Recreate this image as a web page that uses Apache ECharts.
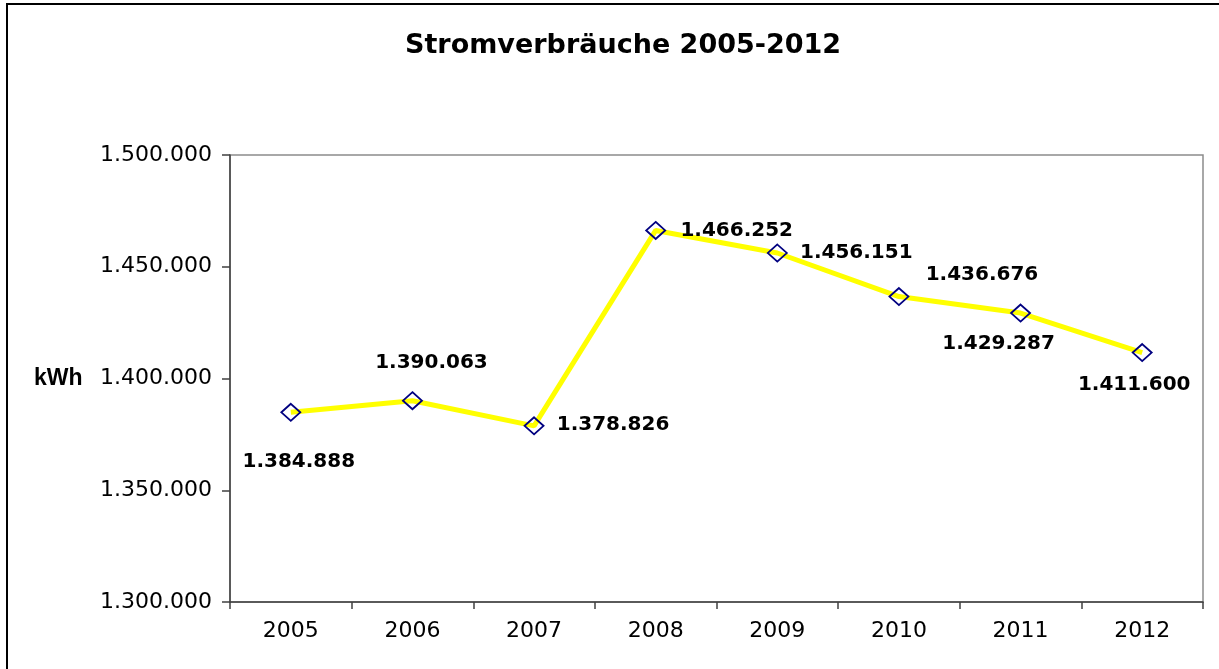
<!DOCTYPE html>
<html>
<head>
<meta charset="utf-8">
<title>Stromverbräuche 2005-2012</title>
<script src="https://cdn.jsdelivr.net/npm/echarts@6/dist/echarts.min.js"></script>
<style>
  html, body { margin: 0; padding: 0; background: #ffffff; }
  #chart { width: 1219px; height: 669px; }
</style>
</head>
<body>
<div id="chart"></div>
<script>
// Jahresverbrauch in kWh
const years = ['2005', '2006', '2007', '2008', '2009', '2010', '2011', '2012'];
const usage = [1384888, 1390063, 1378826, 1466252, 1456151, 1436676, 1429287, 1411600];
const yTicks = [1300000, 1350000, 1400000, 1450000, 1500000];

// German thousands separator: 1384888 -> "1.384.888"
function fmt(v) {
  return String(Math.round(v)).replace(/\B(?=(\d{3})+(?!\d))/g, '.');
}

// Where each value label sits relative to its marker (px)
const labelShift = [
  [8, 50], [19, -38], [79, -1], [81, 0],
  [79, 0], [83, -22], [-22, 31], [-8, 32]
];

const seriesData = usage.map((v, i) => ({
  value: v,
  label: { offset: labelShift[i] }
}));

const chart = echarts.init(document.getElementById('chart'));
chart.setOption({
  animation: false,
  backgroundColor: '#ffffff',
  title: {
    text: 'Stromverbräuche 2005-2012',
    left: 400,
    top: 27,
    textStyle: {
      fontFamily: 'DejaVu Sans',
      fontWeight: 'bold',
      fontSize: 27,
      color: '#000000'
    }
  },
  grid: {
    left: 230, top: 155, right: 16, bottom: 67,
    show: true,
    borderColor: '#8c8c8c',
    borderWidth: 1.5,
    backgroundColor: '#ffffff'
  },
  graphic: [
    {
      type: 'rect',
      shape: { x: 7, y: 4, width: 1240, height: 700 },
      style: { fill: 'none', stroke: '#000000', lineWidth: 2 },
      silent: true
    },
    {
      type: 'text',
      left: 34,
      top: 367,
      style: {
        text: 'kWh',
        fontFamily: '"Liberation Sans Narrow", "Liberation Sans", sans-serif',
        fontWeight: 'bold',
        fontSize: 23,
        fill: '#000000'
      }
    }
  ],
  xAxis: {
    type: 'category',
    data: years,
    boundaryGap: true,
    axisLine: { lineStyle: { color: '#404040', width: 1.5 } },
    axisTick: { show: true, length: 7, lineStyle: { color: '#404040', width: 1.5 } },
    axisLabel: {
      margin: 18,
      fontFamily: 'DejaVu Sans',
      fontSize: 22,
      color: '#000000'
    },
    splitLine: { show: false }
  },
  yAxis: {
    type: 'value',
    min: yTicks[0],
    max: yTicks[yTicks.length - 1],
    interval: yTicks[1] - yTicks[0],
    axisLine: { show: true, lineStyle: { color: '#404040', width: 1.5 } },
    axisTick: { show: true, length: 8, lineStyle: { color: '#404040', width: 1.5 } },
    axisLabel: {
      margin: 18,
      fontFamily: 'DejaVu Sans',
      fontSize: 22,
      color: '#000000',
      formatter: fmt
    },
    splitLine: { show: false }
  },
  series: [{
    type: 'line',
    data: seriesData,
    lineStyle: { color: '#ffff00', width: 5 },
    symbol: 'diamond',
    symbolSize: [19, 17],
    itemStyle: { color: 'rgba(255,255,255,0)', borderColor: '#000080', borderWidth: 1.8 },
    z: 3,
    label: {
      show: true,
      position: 'inside',
      align: 'center',
      verticalAlign: 'middle',
      fontFamily: 'DejaVu Sans',
      fontWeight: 'bold',
      fontSize: 20,
      color: '#000000',
      formatter: p => fmt(p.value)
    }
  }]
});
</script>
</body>
</html>
